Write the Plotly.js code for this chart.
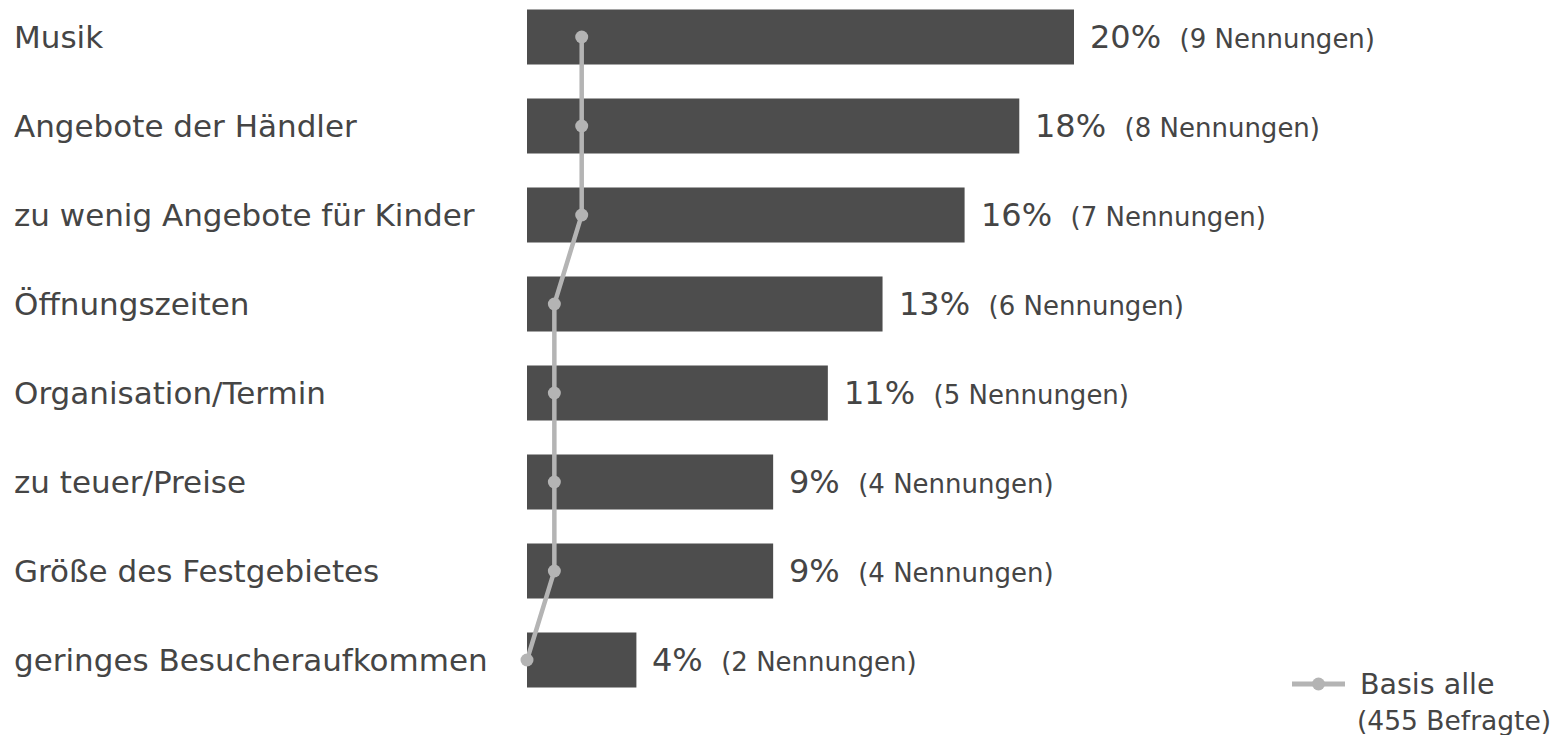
<!DOCTYPE html>
<html>
<head>
<meta charset="utf-8">
<script src="https://cdn.plot.ly/plotly-3.0.1.min.js"></script>
<style>html,body{margin:0;padding:0;background:#fff;}#chart{width:1557px;height:735px;}</style>
</head>
<body>
<div id="chart"></div>
<script>
const categories = ["Musik", "Angebote der Händler", "zu wenig Angebote für Kinder", "Öffnungszeiten", "Organisation/Termin", "zu teuer/Preise", "Größe des Festgebietes", "geringes Besucheraufkommen"];
const percentValues = [20, 18, 16, 13, 11, 9, 9, 4];
const mentions = [9, 8, 7, 6, 5, 4, 4, 2];
const basisAlle = [2, 2, 2, 1, 1, 1, 1, 0];
const legendLabel = "Basis alle";
const legendSub = "(455 Befragte)";

const textColor = "#454545";
const lineColor = "#b4b4b4";
const font = "DejaVu Sans, Verdana, sans-serif";
const W = 1557, H = 735, L = 527, PW = W - L;
const px = v => (v - L) / PW;   // pixel x -> paper
const py = v => 1 - v / H;      // pixel y -> paper

const barTrace = {
  type: "bar", orientation: "h",
  x: percentValues, y: categories,
  marker: {color: "#4d4d4d"},
  width: 0.62,
  showlegend: false, hoverinfo: "skip"
};
const lineTrace = {
  type: "scatter", mode: "lines+markers",
  x: basisAlle, y: categories,
  line: {color: lineColor, width: 4.5},
  marker: {color: lineColor, size: 13},
  name: legendLabel, showlegend: false,
  cliponaxis: false
};

const annotations = [];
categories.forEach((c, i) => {
  annotations.push({
    xref: "paper", yref: "y", x: px(12), y: c,
    xanchor: "left", yanchor: "middle", showarrow: false,
    text: c, font: {size: 31, color: textColor, family: font}
  });
  annotations.push({
    xref: "x", yref: "y", x: percentValues[i], y: c,
    xanchor: "left", yanchor: "middle", showarrow: false, xshift: 14,
    text: percentValues[i] + "%\u00A0<span style='font-size:26px'>\u00A0(" + mentions[i] + " Nennungen)</span>",
    font: {size: 32, color: textColor, family: font}
  });
});
annotations.push({
  xref: "paper", yref: "paper", x: px(1358), y: py(684),
  xanchor: "left", yanchor: "middle", showarrow: false,
  text: legendLabel, font: {size: 28.5, color: textColor, family: font}
});
annotations.push({
  xref: "paper", yref: "paper", x: px(1355), y: py(720),
  xanchor: "left", yanchor: "middle", showarrow: false,
  text: legendSub, font: {size: 26.5, color: textColor, family: font}
});

const shapes = [
  {type: "line", xref: "paper", yref: "paper", x0: px(1292), x1: px(1345), y0: py(684), y1: py(684),
   line: {color: lineColor, width: 5}},
  {type: "circle", xref: "paper", yref: "paper", xsizemode: "pixel", ysizemode: "pixel",
   xanchor: px(1318.5), yanchor: py(684), x0: -6.5, x1: 6.5, y0: -6.5, y1: 6.5,
   fillcolor: lineColor, line: {width: 0}}
];

const layout = {
  width: W, height: H,
  margin: {l: L, r: 0, t: 0, b: 0, pad: 0},
  paper_bgcolor: "#fff", plot_bgcolor: "#fff",
  font: {family: font, color: textColor},
  xaxis: {range: [0, PW / 27.35], visible: false, fixedrange: true},
  yaxis: {type: "category", range: [(H - 37) / 89, -37 / 89], visible: false, fixedrange: true},
  showlegend: false,
  annotations: annotations,
  shapes: shapes
};

Plotly.newPlot("chart", [barTrace, lineTrace], layout, {displayModeBar: false, staticPlot: true});
</script>
</body>
</html>
